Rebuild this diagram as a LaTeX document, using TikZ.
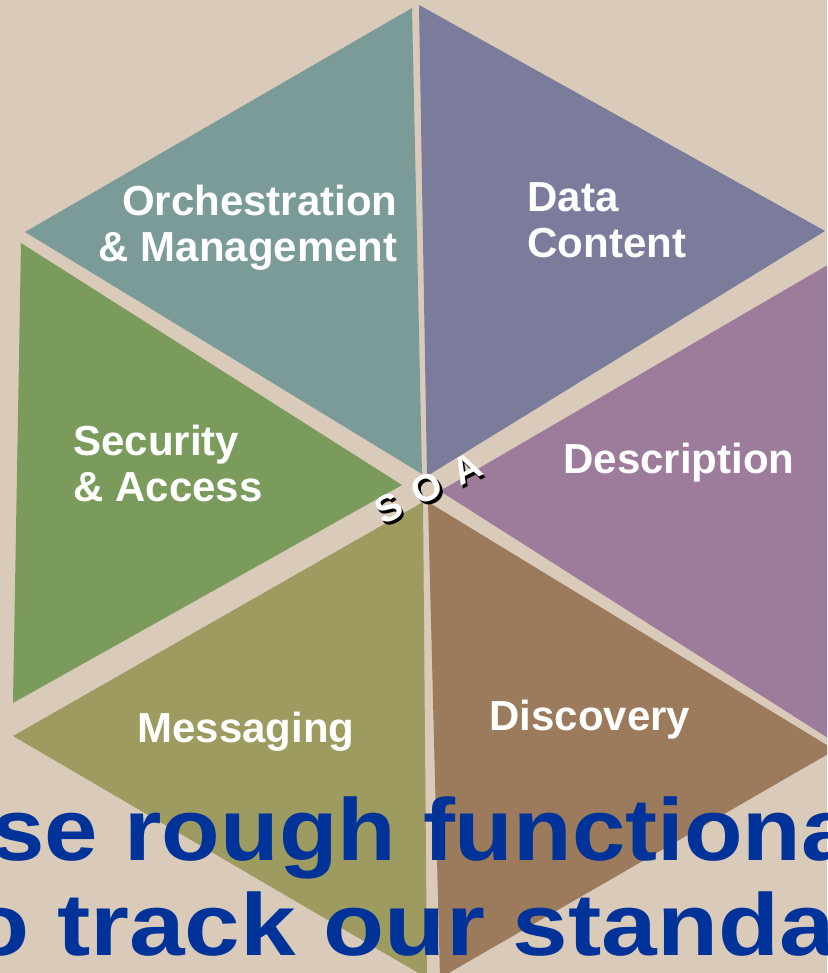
\documentclass[tikz,border=0pt]{standalone}
\usepackage{graphicx}
\usepackage{fontspec}
\setmainfont{Liberation Sans}
\definecolor{bgbeige}{RGB}{217,202,185}
\definecolor{orchcol}{RGB}{122,155,152}
\definecolor{datacol}{RGB}{123,123,155}
\definecolor{desccol}{RGB}{157,123,155}
\definecolor{disccol}{RGB}{155,123,92}
\definecolor{messcol}{RGB}{157,155,96}
\definecolor{secucol}{RGB}{123,155,92}
\definecolor{slideblue}{RGB}{0,51,153}
\tikzset{slicetext/.style={text=white,font=\bfseries\fontsize{21}{23}\selectfont,inner sep=0pt}}
\tikzset{slidetext/.style={text=slideblue,font=\bfseries\fontsize{44}{48}\selectfont,inner sep=0pt,anchor=base west}}
\tikzset{soatext/.style={font=\bfseries\fontsize{19}{19}\selectfont,inner sep=0pt,rotate=27}}

\begin{document}
\begin{tikzpicture}[x=0.5pt,y=-0.5pt]
  \useasboundingbox (0,0) rectangle (827,973);
  \clip (0,0) rectangle (827,973);
  \fill[bgbeige] (0,0) rectangle (827,973);
  % the six slices
  \fill[orchcol] (412,8) -- (25,232) -- (422,474) -- cycle;
  \fill[datacol] (419,5) -- (825,231) -- (427,476) -- cycle;
  \fill[desccol] (440,491) -- (850,252) -- (850,752) -- cycle;
  \fill[disccol] (428,502) -- (835,750) -- (440,978) -- cycle;
  \fill[messcol] (423,502) -- (13,736) -- (427,978) -- cycle;
  \fill[secucol] (21,243) -- (402,485) -- (13,703) -- cycle;
  % slice labels
  \node[slicetext,align=right,anchor=north east] (orch) at (398,185) {Orchestration\\\& Management};
  \node[slicetext,align=left,anchor=north west] (data) at (527,182) {Data\\Content};
  \node[slicetext,anchor=north west] (desc) at (563,443) {Description};
  \node[slicetext,align=left,anchor=north west] (secu) at (73,425) {Security\\\& Access};
  \node[slicetext,anchor=north west] (mess) at (137,712) {Messaging};
  \node[slicetext,anchor=north west] (disc) at (489,700) {Discovery};
  % centre
  \node[soatext,text=black] (soa_shadow) at (430.5,491) {S\hspace{8pt}O\hspace{8pt}A};
  \node[soatext,text=white] (soa) at (428,488) {S\hspace{8pt}O\hspace{8pt}A};
  % slide text
  \node[slidetext] (line_1) at (-9,860) {\scalebox{1.09}[1]{se rough functiona}};
  \node[slidetext] (line_2) at (-32,955) {\scalebox{1.136}[1]{o track our standa}};
\end{tikzpicture}
\end{document}
